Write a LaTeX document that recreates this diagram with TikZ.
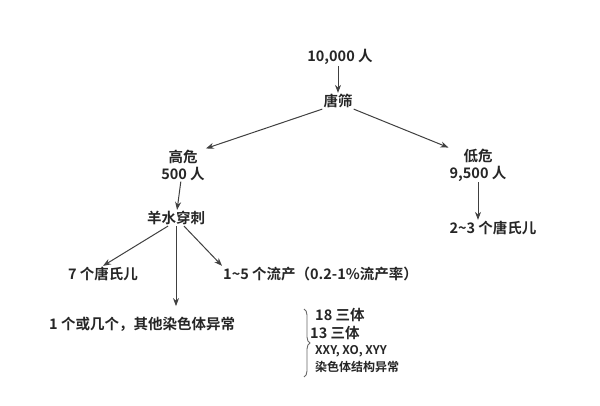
\documentclass[tikz,border=0pt]{standalone}
\usepackage{fontspec}
\setmainfont{Noto Sans CJK SC}[BoldFont={* Bold}]
\usetikzlibrary{arrows.meta,decorations.pathreplacing}
\begin{document}
\begin{tikzpicture}[x=1pt,y=-1pt,
  lab/.style={font=\bfseries\fontsize{14.5}{17}\selectfont,inner sep=1pt,text=black!85},
  small/.style={font=\bfseries\fontsize{12}{14}\selectfont,inner sep=1pt,text=black!85},
  arr/.style={-{Stealth[length=8pt,width=6pt]},line width=1pt,black!75}]
\useasboundingbox[fill=white] (0,0) rectangle (600,406);
\node[lab] (n0) at (340,57) {10,000 人};
\node[lab] (ts) at (338,101) {唐筛};
\node[lab,align=center] (gw) at (183,165) {高危\\500 人};
\node[lab,align=center] (dw) at (478,165) {低危\\9,500 人};
\node[lab] (ys) at (176,218) {羊水穿刺};
\node[lab] (lo) at (493,228) {2\textasciitilde3 个唐氏儿};
\node[lab] (t7) at (103,274) {7 个唐氏儿};
\node[lab,anchor=west] (lc) at (222,274) {1\textasciitilde5 个流产（0.2-1\%流产率）};
\node[lab,anchor=west] (oth) at (48,324) {1 个或几个，其他染色体异常};
\node[lab,anchor=west] (a18) at (314,315) {18 三体};
\node[lab,anchor=west] (a13) at (309,333) {13 三体};
\node[small,anchor=west] (xx) at (314,351) {XXY, XO, XYY};
\node[small,anchor=west] (st) at (314,367) {染色体结构异常};
\coordinate (bt) at (304,309);
\coordinate (bb) at (304,377);
\draw[arr] (n0.south -| ts) -- (ts);
\draw[arr] (ts.south west) -- (gw.north east);
\draw[arr] (ts.south east) -- (dw.north west);
\draw[arr] (gw) -- (ys);
\draw[arr] (dw) -- (dw|-lo.north);
\draw[arr] (ys.south) ++(-8,0) coordinate (ys1) (ys1) -- (t7.north);
\draw[arr] (ys.south) ++(8,0) coordinate (ys2) (ys2) -- (lc.north west);
\draw[arr] (ys.south) -- ++(0,80) coordinate (oe);
\draw[decorate,decoration={brace,amplitude=6pt,mirror},line width=0.9pt,black!60] (bb) -- (bt);
\end{tikzpicture}
\end{document}
